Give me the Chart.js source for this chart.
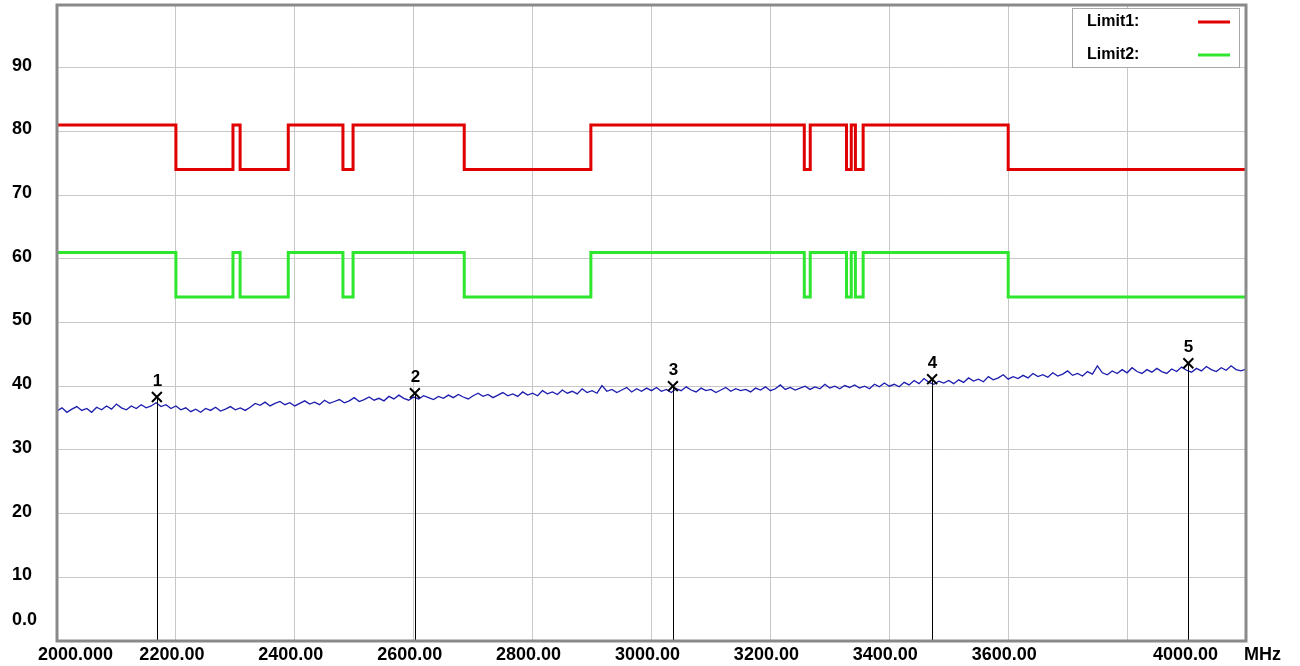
<!DOCTYPE html>
<html>
<head>
<meta charset="utf-8">
<script src="https://cdn.jsdelivr.net/npm/chart.js@4/dist/chart.umd.min.js"></script>
<style>
    html, body { margin: 0; padding: 0; background: #ffffff; }
    canvas { display: block; }
</style>
</head>
<body>
<canvas id="spectrum" width="1300" height="666"></canvas>
<script>
// Sweep (MHz)
const sweepStart = 2000;
const sweepStop = 4000;

const traceLevels = [
    36.1, 36.6, 35.9, 36.4, 36.8, 36.2, 36.5, 35.9, 36.7, 36.3, 36.9, 36.4, 37.2, 36.6, 36.3, 36.9, 36.5, 37.1, 36.6, 36.9,
    37.4, 36.8, 37.1, 36.5, 36.9, 36.3, 36.6, 36.0, 36.4, 35.9, 36.5, 36.2, 36.7, 36.1, 36.4, 36.8, 36.3, 36.6, 36.2, 36.7,
    37.3, 37.0, 37.5, 36.9, 37.3, 37.6, 37.1, 37.4, 36.9, 37.3, 37.7, 37.2, 37.5, 37.1, 37.8, 37.3, 37.6, 37.9, 37.4, 37.7,
    38.2, 37.6, 37.9, 38.3, 37.8, 38.1, 37.7, 38.4, 38.0, 38.6, 38.1, 37.8, 38.3, 38.0, 38.5, 38.2, 37.9, 38.4, 38.1, 38.6,
    38.2, 38.7, 38.3, 38.0, 38.5, 38.9, 38.4, 38.7, 38.2, 38.6, 39.0, 38.5, 38.8, 38.4, 39.1, 38.6, 38.9, 38.5, 39.3, 38.8,
    39.1, 38.7, 39.4, 38.9, 39.2, 38.8, 39.6, 39.0, 39.3, 38.9, 40.1, 39.2, 39.5, 39.0, 39.4, 39.8, 39.1, 39.6, 39.2, 39.7,
    39.3, 39.8, 39.2, 39.5, 39.0, 39.6, 39.3, 39.9, 39.4, 39.1, 39.7, 39.3, 39.5, 39.0, 39.4, 39.8, 39.2, 39.6, 39.3, 39.5,
    39.1, 39.7, 39.4, 39.9, 39.3, 39.6, 40.2, 39.5, 39.8, 39.4, 39.7, 40.0, 39.5, 39.9, 39.6, 40.3, 39.7, 40.0, 39.6, 40.1,
    39.8, 40.2, 39.7, 40.0, 39.6, 40.3, 39.9, 40.5, 40.0, 40.3, 39.9, 40.6, 40.2, 40.9, 40.4, 41.2, 40.6, 40.3, 40.8, 40.5,
    40.9, 40.4, 41.0, 40.6, 41.3, 40.8, 41.1, 40.7, 41.5, 41.0, 41.3, 41.8, 41.1, 41.5, 41.2, 41.7, 41.3, 42.0, 41.5, 41.8,
    41.4, 42.1, 41.6, 41.9, 42.4, 41.7, 42.0, 41.6, 42.3, 41.9, 43.2, 42.1, 41.8, 42.4, 42.0, 42.6, 42.1, 42.9, 42.3, 42.0,
    42.6, 42.2, 42.8, 42.3, 42.0, 42.7, 42.3, 43.0, 42.5, 42.2, 42.8, 42.4, 43.1, 42.6, 42.3, 42.9, 42.5, 43.2, 42.6, 42.4,
    42.7
];

// Limit lines: level starts at each frequency
const limitFreqs   = [2000, 2200, 2296, 2308, 2389, 2481, 2498, 2685, 2898, 3257, 3267, 3328, 3336, 3343, 3356, 3600, 4000];
const limit1Levels = [81, 74, 81, 74, 81, 74, 81, 74, 81, 74, 81, 74, 81, 74, 81, 74, 74];
const limit2Levels = [61, 54, 61, 54, 61, 54, 61, 54, 61, 54, 61, 54, 61, 54, 61, 54, 54];
const legendNames  = ['Limit1:', 'Limit2:'];

// Markers
const markerNames  = ['1', '2', '3', '4', '5'];
const markerFreqs  = [2168, 2602, 3036, 3472, 3903];
const markerLevels = [38.3, 38.9, 40.0, 41.1, 43.6];

// Axis labels
const xTickValues = [2000, 2200, 2400, 2600, 2800, 3000, 3200, 3400, 3600, 4000];
const xTickLabels = ['2000.000', '2200.00', '2400.00', '2600.00', '2800.00', '3000.00', '3200.00', '3400.00', '3600.00', '4000.00'];
const xUnit = 'MHz';
const yTickValues = [0, 10, 20, 30, 40, 50, 60, 70, 80, 90];
const yTickLabels = ['0.0', '10', '20', '30', '40', '50', '60', '70', '80', '90'];

const RED = '#e00000';
const GREEN = '#2ee62e';
const BLUE = '#1c1cae';
const FRAME = '#8a8a8a';
const LABEL_FONT = 'bold 18px "Liberation Sans", Arial, sans-serif';

function toPoints(xs, ys) {
    return xs.map((x, i) => ({ x: x, y: ys[i] }));
}

const traceStep = (sweepStop - sweepStart) / (traceLevels.length - 1);
const tracePoints = traceLevels.map((v, i) => ({ x: sweepStart + i * traceStep, y: v }));

// Rahmen, aksetekster, markørlinjer og legende
const decorPlugin = {
    id: 'decor',
    afterDatasetsDraw(chart) {
        const ctx = chart.ctx;
        const area = chart.chartArea;
        const xs = chart.scales.x;
        const ys = chart.scales.y;

        ctx.save();

        // marker lines and numbers
        ctx.strokeStyle = '#000000';
        ctx.lineWidth = 1;
        ctx.fillStyle = '#000000';
        ctx.font = 'bold 17px "Liberation Sans", Arial, sans-serif';
        ctx.textAlign = 'center';
        ctx.textBaseline = 'middle';
        markerFreqs.forEach((f, i) => {
            const px = Math.round(xs.getPixelForValue(f)) + 0.5;
            const py = ys.getPixelForValue(markerLevels[i]);
            ctx.beginPath();
            ctx.moveTo(px, py);
            ctx.lineTo(px, area.bottom);
            ctx.stroke();
            ctx.fillText(markerNames[i], px, py - 16);
        });

        // legend box
        const boxL = area.right - 174;
        const boxT = area.top + 4;
        const boxR = area.right - 7;
        const boxB = area.top + 63;
        ctx.fillStyle = '#ffffff';
        ctx.fillRect(boxL, boxT, boxR - boxL, boxB - boxT);
        ctx.strokeStyle = '#a8a8a8';
        ctx.lineWidth = 1;
        ctx.strokeRect(boxL + 0.5, boxT + 0.5, boxR - boxL, boxB - boxT);
        const legendColors = [RED, GREEN];
        ctx.font = 'bold 16px "Liberation Sans", Arial, sans-serif';
        ctx.textAlign = 'left';
        legendNames.forEach((name, i) => {
            const ty = boxT + 14 + i * 33;
            ctx.fillStyle = '#000000';
            ctx.fillText(name, boxL + 15, ty);
            ctx.strokeStyle = legendColors[i];
            ctx.lineWidth = 3;
            ctx.beginPath();
            ctx.moveTo(boxL + 126, ty);
            ctx.lineTo(boxL + 158, ty);
            ctx.stroke();
        });

        // frame
        ctx.strokeStyle = FRAME;
        ctx.lineWidth = 3;
        ctx.strokeRect(area.left, area.top + 1, area.right - area.left, area.bottom - area.top - 1);

        // y labels
        ctx.fillStyle = '#000000';
        ctx.font = LABEL_FONT;
        ctx.textAlign = 'left';
        ctx.textBaseline = 'middle';
        yTickValues.forEach((v, i) => {
            let py = ys.getPixelForValue(v) - 2;
            if (v === 0) py -= 19;
            ctx.fillText(yTickLabels[i], area.left - 45, py);
        });

        // x labels
        const labelY = area.bottom + 14;
        xTickValues.forEach((v, i) => {
            const px = xs.getPixelForValue(v);
            if (i === 0) {
                ctx.textAlign = 'left';
                ctx.fillText(xTickLabels[i], px - 19, labelY);
            } else if (i === xTickValues.length - 1) {
                ctx.textAlign = 'right';
                ctx.fillText(xTickLabels[i], px - 28, labelY);
            } else {
                ctx.textAlign = 'center';
                ctx.fillText(xTickLabels[i], px - 4, labelY);
            }
        });
        ctx.textAlign = 'left';
        ctx.fillText(xUnit, area.right - 2, labelY);

        ctx.restore();
    }
};

new Chart(document.getElementById('spectrum').getContext('2d'), {
    type: 'line',
    data: {
        datasets: [
            {
                label: 'Trace',
                data: tracePoints,
                borderColor: BLUE,
                borderWidth: 1.3,
                pointRadius: 0,
                tension: 0,
                order: 3
            },
            {
                label: 'Limit2',
                data: toPoints(limitFreqs, limit2Levels),
                borderColor: GREEN,
                borderWidth: 3,
                pointRadius: 0,
                stepped: 'before',
                order: 2
            },
            {
                label: 'Limit1',
                data: toPoints(limitFreqs, limit1Levels),
                borderColor: RED,
                borderWidth: 3,
                pointRadius: 0,
                stepped: 'before',
                order: 1
            },
            {
                type: 'scatter',
                label: 'Markers',
                data: toPoints(markerFreqs, markerLevels),
                pointStyle: 'crossRot',
                pointRadius: 7,
                borderColor: '#000000',
                borderWidth: 2,
                order: 0
            }
        ]
    },
    options: {
        responsive: false,
        animation: false,
        devicePixelRatio: 1,
        layout: {
            autoPadding: false,
            padding: { left: 57, right: 54, top: 4, bottom: 25 }
        },
        plugins: {
            legend: { display: false },
            tooltip: { enabled: false }
        },
        scales: {
            x: {
                type: 'linear',
                min: sweepStart,
                max: sweepStop,
                ticks: { display: false, stepSize: 200 },
                grid: { color: '#c8c8c8', lineWidth: 1, drawTicks: false },
                border: { display: false }
            },
            y: {
                type: 'linear',
                min: 0,
                max: 100,
                ticks: { display: false, stepSize: 10 },
                grid: { color: '#c8c8c8', lineWidth: 1, drawTicks: false },
                border: { display: false }
            }
        }
    },
    plugins: [decorPlugin]
});
</script>
</body>
</html>
